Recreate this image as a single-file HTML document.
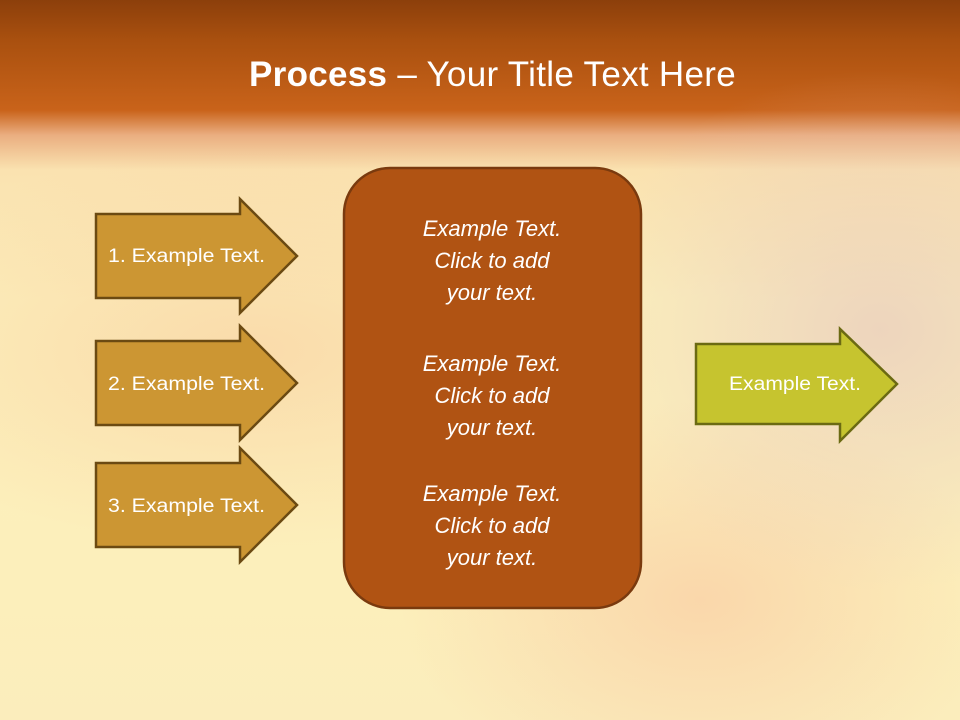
<!DOCTYPE html>
<html><head><style>
body{margin:0;width:960px;height:720px;overflow:hidden;font-family:"Liberation Sans",sans-serif}
.bg{position:absolute;inset:0;background:
radial-gradient(ellipse 300px 260px at 880px 330px,rgba(225,190,190,.55),transparent),
radial-gradient(ellipse 420px 200px at 250px 350px,rgba(245,170,130,.3),transparent),
radial-gradient(ellipse 300px 200px at 700px 600px,rgba(245,170,140,.35),transparent),
linear-gradient(180deg,#8c3f0b 0,#a9500f 40px,#c9631a 110px,#eaae80 135px,#fae2b0 170px,#fcf0bc 300px,#fcefbb 600px,#fbedbc 720px);}
.t{position:absolute;top:55px;left:0;width:985px;text-align:center;color:#fff;font-size:35px;letter-spacing:.3px}
svg{position:absolute;left:0;top:0}
</style></head><body>
<div class="bg"></div>
<div class="t"><b>Process</b> – Your Title Text Here</div>
<svg width="960" height="720" font-family="Liberation Sans, sans-serif">
<g fill="#cc9633" stroke="#6b4a12" stroke-width="2.5">
<path d="M96 214H240V199L297 256L240 313V298H96Z"/>
<path d="M96 341H240V326L297 383L240 440V425H96Z"/>
<path d="M96 463H240V448L297 505L240 562V547H96Z"/>
</g>
<path d="M696 344H840V329L897 384L840 441V424H696Z" fill="#c6c42f" stroke="#6b6a12" stroke-width="2.5"/>
<rect x="344" y="168" width="297" height="440" rx="46" fill="#b05313" stroke="#7a3a0e" stroke-width="2.5"/>
<g fill="#fff" font-size="19">
<text x="108" y="262" textLength="157" lengthAdjust="spacingAndGlyphs">1. Example Text.</text>
<text x="108" y="390" textLength="157" lengthAdjust="spacingAndGlyphs">2. Example Text.</text>
<text x="108" y="512" textLength="157" lengthAdjust="spacingAndGlyphs">3. Example Text.</text>
<text x="729" y="390" textLength="132" lengthAdjust="spacingAndGlyphs">Example Text.</text>
</g>
<g fill="#fff" font-size="22" font-style="italic" text-anchor="middle">
<text x="492" y="236">Example Text.</text><text x="492" y="268">Click  to add</text><text x="492" y="300">your text.</text>
<text x="492" y="371">Example Text.</text><text x="492" y="403">Click  to add</text><text x="492" y="435">your text.</text>
<text x="492" y="501">Example Text.</text><text x="492" y="533">Click  to add</text><text x="492" y="565">your text.</text>
</g>
</svg>
</body></html>
